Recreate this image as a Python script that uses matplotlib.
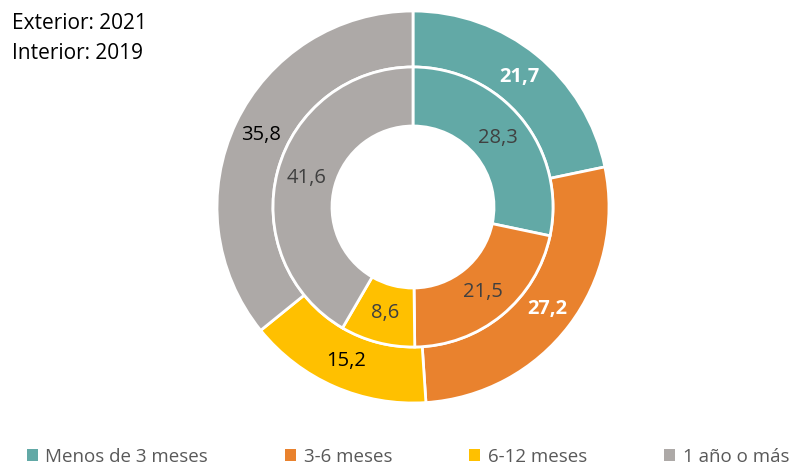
import numpy as np
import matplotlib.pyplot as plt
from matplotlib.patches import Patch

categorias = ['Menos de 3 meses', '3-6 meses', '6-12 meses', '1 año o más']
exterior_2021 = [21.7, 27.2, 15.2, 35.8]
interior_2019 = [28.3, 21.5, 8.6, 41.6]
colores = ['#62A9A6', '#E9822E', '#FFC000', '#ADA9A7']
col_ext = ['white', 'white', 'black', 'black']

plt.rcParams['font.family'] = ['Open Sans', 'DejaVu Sans']

fig = plt.figure(figsize=(8.11, 4.70), dpi=100)
ax = fig.add_axes([213/811, 63/470, 400/811, 400/470])

#Anillo exterior (2021)
w_ext, _ = ax.pie(exterior_2021, radius=196, colors=colores, startangle=90, counterclock=False,
                  wedgeprops=dict(width=56, edgecolor='white', linewidth=2))
#Anillo interior (2019)
w_int, _ = ax.pie(interior_2019, radius=140, colors=colores, startangle=90, counterclock=False,
                  wedgeprops=dict(width=59, edgecolor='white', linewidth=2))

ax.set_xlim(-200, 200)
ax.set_ylim(-200, 200)
ax.set_aspect('equal')
ax.axis('off')

def fmt(v):
    return ('%.1f' % v).replace('.', ',')

for w, v, c in zip(w_ext, exterior_2021, col_ext):
    a = np.deg2rad((w.theta1 + w.theta2) / 2)
    ax.text(168*np.cos(a), 168*np.sin(a), fmt(v), ha='center', va='center',
            fontsize=14.5, color=c, fontweight='bold' if c == 'white' else 'normal')
for w, v in zip(w_int, interior_2019):
    a = np.deg2rad((w.theta1 + w.theta2) / 2)
    ax.text(110*np.cos(a), 110*np.sin(a), fmt(v), ha='center', va='center',
            fontsize=14.5, color='#404040')

fig.text(12/811, 1-29/470, 'Exterior: 2021', ha='left', va='baseline', fontsize=15)
fig.text(12/811, 1-59/470, 'Interior: 2019', ha='left', va='baseline', fontsize=15)

handles = [Patch(facecolor=c, edgecolor='none') for c in colores]
leg = fig.legend(handles, categorias, loc='center', bbox_to_anchor=(0.503, 1-457/470), ncol=4,
                 frameon=False, fontsize=13.5, handlelength=0.6, handleheight=0.6,
                 handletextpad=0.4, columnspacing=4.1)
for t in leg.get_texts():
    t.set_color('#595959')

fig.savefig('out.png', dpi=100)
